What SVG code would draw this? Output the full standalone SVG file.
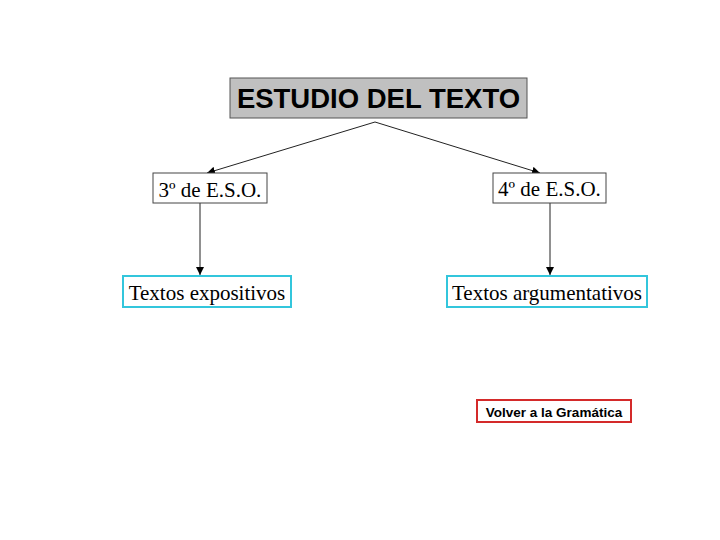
<svg xmlns="http://www.w3.org/2000/svg" width="720" height="540" viewBox="0 0 720 540">
<style>
.serif{font-family:"Liberation Serif","Times New Roman",serif;font-size:21px;fill:#000}
.sans{font-family:"Liberation Sans",Arial,sans-serif;font-weight:bold;fill:#000}
.box{fill:#fff;stroke:#444;stroke-width:1}
.cyan{fill:#fff;stroke:#33c6dc;stroke-width:2}
.conn{stroke:#222;stroke-width:1;fill:none;marker-end:url(#ah)}
</style>
<defs>
<marker id="ah" viewBox="0 0 10 10" refX="10" refY="5" markerWidth="8" markerHeight="8" markerUnits="userSpaceOnUse" orient="auto">
<path d="M0,0 L10,5 L0,10 z" fill="#000"/>
</marker>
</defs>
<rect width="720" height="540" fill="#fff"/>
<g id="connectors">
<path class="conn" d="M375,122 L207,173"/>
<path class="conn" d="M375,122 L540,173"/>
<path class="conn" d="M200,203 L200,275"/>
<path class="conn" d="M550,203 L550,275"/>
</g>
<g id="title">
<rect x="230" y="78" width="297" height="40" fill="#c0c0c0" stroke="#555" stroke-width="1"/>
<text class="sans" x="378.5" y="108" font-size="27.5" text-anchor="middle">ESTUDIO DEL TEXTO</text>
</g>
<g id="eso3">
<rect class="box" x="153" y="173" width="114" height="30"/>
<text class="serif" x="210" y="197" text-anchor="middle">3º de E.S.O.</text>
</g>
<g id="eso4">
<rect class="box" x="493" y="173" width="113" height="30"/>
<text class="serif" x="549.5" y="196" text-anchor="middle">4º de E.S.O.</text>
</g>
<g id="expositivos">
<rect class="cyan" x="123" y="276" width="168" height="31"/>
<text class="serif" x="207" y="300" text-anchor="middle">Textos expositivos</text>
</g>
<g id="argumentativos">
<rect class="cyan" x="447" y="276" width="200" height="31"/>
<text class="serif" x="547" y="300" text-anchor="middle">Textos argumentativos</text>
</g>
<g id="volver">
<rect x="477" y="400" width="154" height="22" fill="#fff" stroke="#d42a2a" stroke-width="2"/>
<text class="sans" x="554" y="416.5" font-size="13.5" text-anchor="middle">Volver a la Gramática</text>
</g>
</svg>
